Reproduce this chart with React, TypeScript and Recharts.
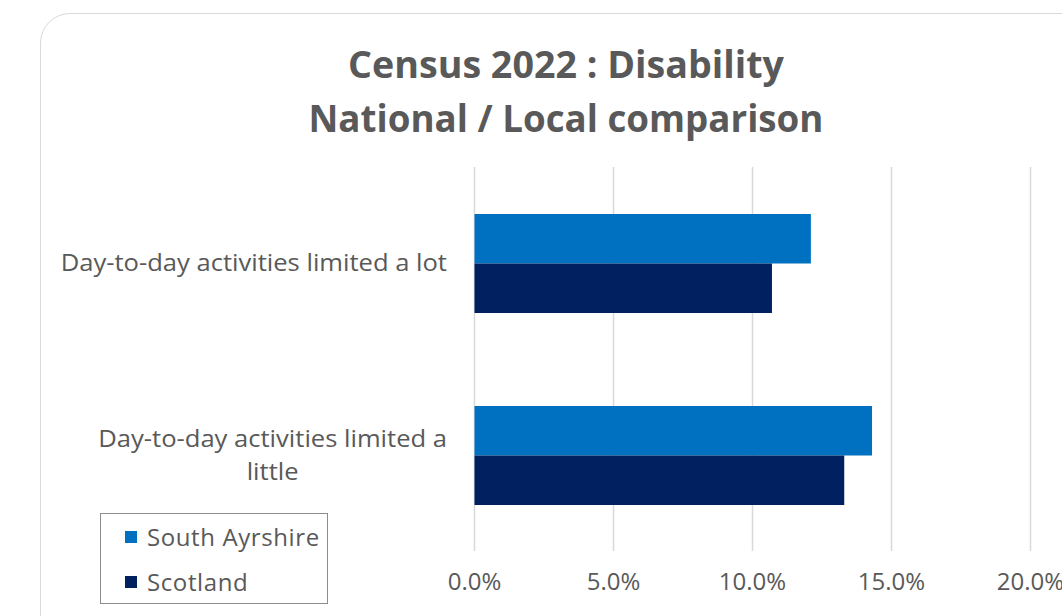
import { BarChart, Bar, XAxis, YAxis, CartesianGrid } from 'recharts';

const categories = ['Day-to-day activities limited a lot', 'Day-to-day activities limited a little'];
const seriesNames = ['South Ayrshire', 'Scotland'];
const southAyrshire = [12.1, 14.3];
const scotland = [10.7, 13.3];
const xTicks = [0, 5, 10, 15, 20];
const titleLines = ['Census 2022 : Disability', 'National / Local comparison'];

const SA_COLOR = '#0070C0';
const SCOT_COLOR = '#002060';
const seriesColors = [SA_COLOR, SCOT_COLOR];
const TEXT = '#595959';
const LABEL_FONT = '"Open Sans", sans-serif';
const LABEL_SIZE = 24;
const STRETCH = 1.065;

const data = categories.map((name, i) => ({
  name,
  'South Ayrshire': southAyrshire[i],
  Scotland: scotland[i],
}));

let ctx: CanvasRenderingContext2D | null = null;
function measure(text: string) {
  if (!ctx) ctx = document.createElement('canvas').getContext('2d');
  if (!ctx) return text.length * 12;
  ctx.font = `${LABEL_SIZE}px "Open Sans"`;
  return ctx.measureText(text).width * STRETCH;
}

function wrap(text: string, maxWidth: number) {
  const words = text.split(' ');
  const lines: string[] = [];
  let cur = '';
  for (const w of words) {
    const next = cur ? cur + ' ' + w : w;
    if (cur && measure(next) > maxWidth) {
      lines.push(cur);
      cur = w;
    } else {
      cur = next;
    }
  }
  if (cur) lines.push(cur);
  return lines;
}

function CategoryTick({ y, payload }: any) {
  const lines = wrap(payload.value, 400);
  const blockW = Math.max(...lines.map(measure));
  const cx = 447 - blockW / 2;
  const lh = 33;
  const startY = y - ((lines.length - 1) * lh) / 2;
  return (
    <text fill={TEXT} fontSize={LABEL_SIZE} fontFamily={LABEL_FONT} textAnchor="middle">
      {lines.map((l, i) => (
        <tspan
          key={i}
          x={cx}
          y={startY + i * lh}
          dy="0.35em"
          textLength={measure(l)}
          lengthAdjust="spacingAndGlyphs"
        >
          {l}
        </tspan>
      ))}
    </text>
  );
}

function PercentTick({ x, payload }: any) {
  return (
    <text x={x} y={590} fill={TEXT} fontSize={LABEL_SIZE} fontFamily={LABEL_FONT} textAnchor="middle">
      {payload.value.toFixed(1)}%
    </text>
  );
}

function LegendBox() {
  return (
    <div
      style={{
        position: 'absolute',
        left: 100,
        top: 513,
        width: 228,
        height: 91,
        boxSizing: 'border-box',
        border: '1.5px solid #8c8c8c',
        background: '#fff',
        fontFamily: LABEL_FONT,
        fontSize: LABEL_SIZE,
        letterSpacing: 0.6,
        color: TEXT,
      }}
    >
      {seriesNames.map((name, i) => (
        <div
          key={name}
          style={{ position: 'absolute', left: 24, top: 8 + i * 45, height: 30, display: 'flex', alignItems: 'center' }}
        >
          <span style={{ width: 12, height: 12, background: seriesColors[i], marginRight: 10, display: 'inline-block' }} />
          <span style={{ lineHeight: '30px' }}>{name}</span>
        </div>
      ))}
    </div>
  );
}

export default function App() {
  return (
    <div style={{ position: 'absolute', left: 0, top: 0, width: 1062, height: 616, overflow: 'hidden', background: '#fff' }}>
      <div
        style={{
          position: 'absolute',
          left: 40,
          top: 13,
          width: 1100,
          height: 700,
          border: '1.5px solid #d9d9d9',
          borderRadius: 30,
          boxSizing: 'border-box',
        }}
      />
      <svg width={1062} height={160} style={{ position: 'absolute', left: 0, top: 0 }}>
        <text x={566} y={78} fill={TEXT} fontSize={38} fontWeight={700} fontFamily={LABEL_FONT} textAnchor="middle" textLength={436} lengthAdjust="spacingAndGlyphs">
          {titleLines[0]}
        </text>
        <text x={566} y={132} fill={TEXT} fontSize={38} fontWeight={700} fontFamily={LABEL_FONT} textAnchor="middle" textLength={515} lengthAdjust="spacingAndGlyphs">
          {titleLines[1]}
        </text>
      </svg>
      <div style={{ position: 'absolute', left: 0, top: 0 }}>
        <BarChart
          width={1062}
          height={616}
          data={data}
          layout="vertical"
          margin={{ top: 167, right: 31.5, bottom: 25, left: 0 }}
          barGap={0}
        >
          <CartesianGrid horizontal={false} stroke="#d9d9d9" strokeWidth={1.5} />
          <XAxis
            type="number"
            domain={[0, 20]}
            ticks={xTicks}
            axisLine={false}
            tickLine={false}
            height={40}
            tick={<PercentTick />}
            interval={0}
          />
          <YAxis
            type="category"
            dataKey="name"
            width={474.5}
            axisLine={false}
            tickLine={false}
            tick={<CategoryTick />}
            interval={0}
          />
          <Bar dataKey={seriesNames[0]} fill={SA_COLOR} barSize={49.5} isAnimationActive={false} />
          <Bar dataKey={seriesNames[1]} fill={SCOT_COLOR} barSize={49.5} isAnimationActive={false} />
        </BarChart>
      </div>
      <LegendBox />
    </div>
  );
}
